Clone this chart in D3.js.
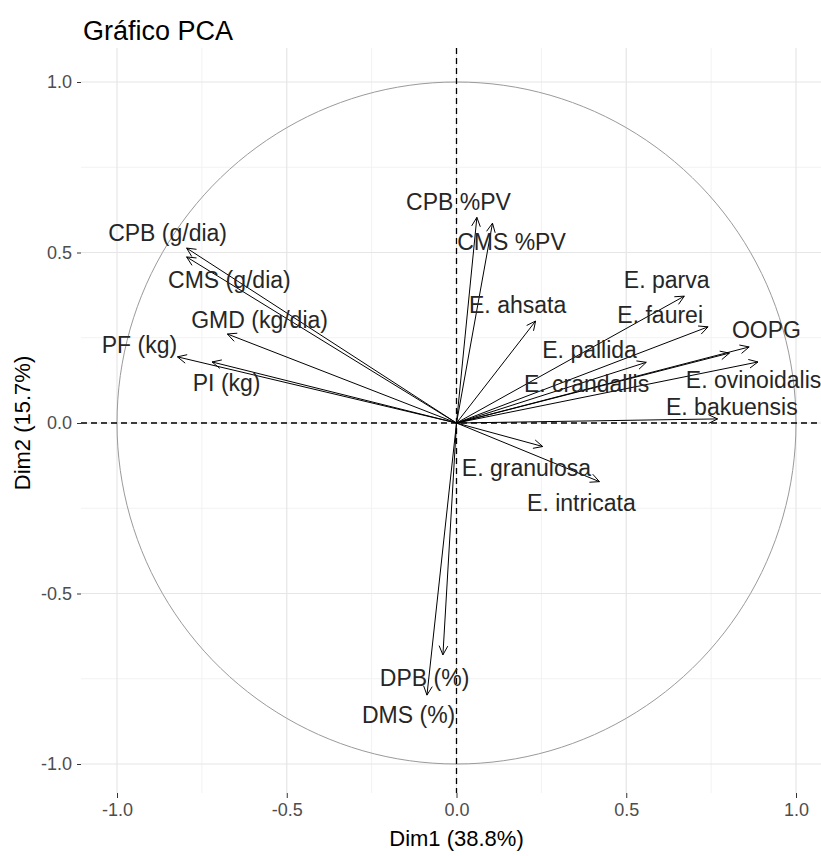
<!DOCTYPE html>
<html lang="es">
<head>
<meta charset="UTF-8">
<title>Gráfico PCA</title>
<script src="https://cdn.jsdelivr.net/npm/d3@7"></script>
<style>
  body { margin: 0; background: #fff; }
  text { font-family: "Liberation Sans", Arial, sans-serif; }
</style>
</head>
<body>
<div id="chart"></div>
<script>
// variables (coordinates on Dim1 / Dim2)
const varNames = ["CPB (g/dia)", "CMS (g/dia)", "GMD (kg/dia)", "PF (kg)", "PI (kg)",
  "CPB %PV", "CMS %PV", "E. ahsata", "E. parva", "E. faurei", "OOPG", "E. pallida",
  "E. crandallis", "E. ovinoidalis", "E. bakuensis", "E. granulosa", "E. intricata",
  "DPB (%)", "DMS (%)"];
const dim1 = [-0.795, -0.795, -0.675, -0.822, -0.72,
  0.060, 0.106, 0.233, 0.671, 0.741, 0.862, 0.559,
  0.804, 0.888, 0.769, 0.254, 0.421,
  -0.040, -0.087];
const dim2 = [0.513, 0.487, 0.261, 0.194, 0.179,
  0.603, 0.586, 0.299, 0.372, 0.282, 0.223, 0.178,
  0.205, 0.179, 0.012, -0.069, -0.172,
  -0.680, -0.798];
// label positions (repelled, data units)
const labX = [-0.851, -0.669, -0.580, -0.934, -0.677,
  0.006, 0.162, 0.180, 0.619, 0.600, 0.913, 0.392,
  0.383, 0.875, 0.811, 0.206, 0.368,
  -0.094, -0.141];
const labY = [0.557, 0.419, 0.302, 0.229, 0.117,
  0.648, 0.531, 0.346, 0.419, 0.317, 0.273, 0.214,
  0.114, 0.126, 0.047, -0.132, -0.235,
  -0.748, -0.856];
const ticks = [-1.0, -0.5, 0.0, 0.5, 1.0];
const minorTicks = [-0.75, -0.25, 0.25, 0.75];

const W = 821, H = 856;
const panel = {left: 81, right: 821, top: 48, bottom: 793};

const svg = d3.select("#chart").append("svg")
  .attr("width", W).attr("height", H);

const x = d3.scaleLinear().domain([-1, 1]).range([117, 796]);
const y = d3.scaleLinear().domain([-1, 1]).range([764, 82]);

// grid
const grid = svg.append("g");
minorTicks.forEach(t => {
  grid.append("line").attr("x1", x(t)).attr("x2", x(t))
    .attr("y1", panel.top).attr("y2", panel.bottom)
    .attr("stroke", "#f2f2f2").attr("stroke-width", 1);
  grid.append("line").attr("y1", y(t)).attr("y2", y(t))
    .attr("x1", panel.left).attr("x2", panel.right)
    .attr("stroke", "#f2f2f2").attr("stroke-width", 1);
});
ticks.forEach(t => {
  grid.append("line").attr("x1", x(t)).attr("x2", x(t))
    .attr("y1", panel.top).attr("y2", panel.bottom)
    .attr("stroke", "#e6e6e6").attr("stroke-width", 1.2);
  grid.append("line").attr("y1", y(t)).attr("y2", y(t))
    .attr("x1", panel.left).attr("x2", panel.right)
    .attr("stroke", "#e6e6e6").attr("stroke-width", 1.2);
});

// axes
const fmt = d => d3.format(".1f")(d).replace("−", "-");
const xAxis = svg.append("g")
  .attr("transform", `translate(0,${panel.bottom})`)
  .call(d3.axisBottom(x).tickValues(ticks).tickFormat(fmt).tickSizeOuter(0).tickSize(5).tickPadding(5));
const yAxis = svg.append("g")
  .attr("transform", `translate(${panel.left},0)`)
  .call(d3.axisLeft(y).tickValues(ticks).tickFormat(fmt).tickSizeOuter(0).tickSize(4).tickPadding(5));
[xAxis, yAxis].forEach(a => {
  a.select(".domain").remove();
  a.selectAll(".tick line").attr("stroke", "#333");
  a.selectAll(".tick text").attr("fill", "#4d4d4d").style("font-size", "18px")
    .style("font-family", "'Liberation Sans', Arial, sans-serif");
});

// unit circle
const circ = d3.range(0, 361, 2).map(a => [Math.cos(a * Math.PI / 180), Math.sin(a * Math.PI / 180)]);
svg.append("path")
  .attr("d", d3.line().x(d => x(d[0])).y(d => y(d[1]))(circ))
  .attr("fill", "none").attr("stroke", "#9a9a9a").attr("stroke-width", 1);

// reference lines
svg.append("line").attr("x1", x(0)).attr("x2", x(0))
  .attr("y1", panel.top).attr("y2", panel.bottom)
  .attr("stroke", "#000").attr("stroke-width", 1.3).attr("stroke-dasharray", "6,4");
svg.append("line").attr("y1", y(0)).attr("y2", y(0))
  .attr("x1", panel.left).attr("x2", panel.right)
  .attr("stroke", "#000").attr("stroke-width", 1.3).attr("stroke-dasharray", "6,4");

// arrows
const arrows = svg.append("g");
const headLen = 10, headAng = Math.PI / 7;
varNames.forEach((n, i) => {
  const x0 = x(0), y0 = y(0), x1 = x(dim1[i]), y1 = y(dim2[i]);
  const ang = Math.atan2(y1 - y0, x1 - x0);
  arrows.append("line").attr("x1", x0).attr("y1", y0).attr("x2", x1).attr("y2", y1)
    .attr("stroke", "#000").attr("stroke-width", 1);
  const p1 = [x1 - headLen * Math.cos(ang - headAng), y1 - headLen * Math.sin(ang - headAng)];
  const p2 = [x1 - headLen * Math.cos(ang + headAng), y1 - headLen * Math.sin(ang + headAng)];
  arrows.append("path")
    .attr("d", `M${p1[0]},${p1[1]}L${x1},${y1}L${p2[0]},${p2[1]}`)
    .attr("fill", "none").attr("stroke", "#000").attr("stroke-width", 1);
});

// labels
svg.append("g").selectAll("text")
  .data(varNames)
  .join("text")
    .attr("x", (d, i) => x(labX[i]))
    .attr("y", (d, i) => y(labY[i]))
    .attr("text-anchor", "middle")
    .attr("dominant-baseline", "central")
    .attr("fill", "#262626")
    .style("font-size", "23px")
    .text(d => d);

// titles
svg.append("text").attr("x", 83).attr("y", 40)
  .style("font-size", "27px").attr("fill", "#000").text("Gráfico PCA");
svg.append("text").attr("x", x(0)).attr("y", 846)
  .attr("text-anchor", "middle").style("font-size", "22px").attr("fill", "#000")
  .text("Dim1 (38.8%)");
svg.append("text").attr("transform", `translate(30,${y(0)})rotate(-90)`)
  .attr("text-anchor", "middle").style("font-size", "22px").attr("fill", "#000")
  .text("Dim2 (15.7%)");
</script>
</body>
</html>
